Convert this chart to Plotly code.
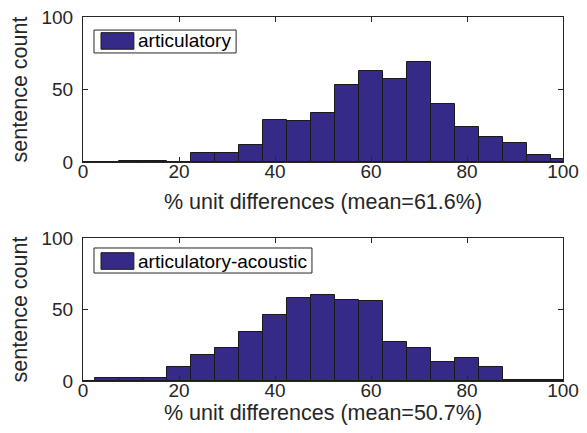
import plotly.graph_objects as go

bin_centers = [0, 5, 10, 15, 20, 25, 30, 35, 40, 45, 50, 55, 60, 65, 70, 75, 80, 85, 90, 95, 100]
articulatory = [0, 0, 1, 1, 0, 6, 6, 12, 29, 28, 34, 53, 63, 57, 69, 40, 24, 17, 13, 5, 2]
artic_acoustic = [0, 2, 2, 2, 10, 18, 23, 34, 46, 58, 60, 57, 56, 27, 23, 13, 16, 10, 1, 1, 1]
names = ["articulatory", "articulatory-acoustic"]
x_titles = ["% unit differences (mean=61.6%)", "% unit differences (mean=50.7%)"]
x_ticks = [0, 20, 40, 60, 80, 100]
y_ticks = [0, 50, 100]

BAR = "#352a87"
AX = "#262626"
FONT = "Liberation Sans, Arial, Helvetica, sans-serif"

fig = go.Figure()
series = [articulatory, artic_acoustic]
axes = [("x", "y"), ("x2", "y2")]
for vals, nm, (xa, ya) in zip(series, names, axes):
    fig.add_trace(go.Bar(x=bin_centers, y=vals, width=5, name=nm, showlegend=False,
                         marker=dict(color=BAR, line=dict(color="#1a1a1a", width=1)),
                         xaxis=xa, yaxis=ya))

axis_common = dict(showline=True, linecolor=AX, linewidth=1, mirror="ticks",
                   ticks="inside", ticklen=5, tickcolor=AX, showgrid=False, zeroline=False,
                   automargin=False, tickfont=dict(size=19, color=AX, family=FONT))
xcommon = dict(domain=[0, 1], range=[0, 100], tickvals=x_ticks, ticklabelstandoff=-8, **axis_common)
ycommon = dict(range=[0, 100], tickvals=y_ticks, ticklabelstandoff=5, **axis_common)

fig.update_layout(
    width=587, height=433,
    margin=dict(l=83, r=24, t=17, b=52),
    paper_bgcolor="white", plot_bgcolor="white",
    font=dict(family=FONT, color=AX),
    bargap=0, showlegend=False,
    xaxis=dict(anchor="y", title=dict(text=x_titles[0], font=dict(size=21.5), standoff=13), **xcommon),
    yaxis=dict(domain=[0.6016, 1.0], anchor="x",
               title=dict(text="sentence count", font=dict(size=21.5), standoff=7), **ycommon),
    xaxis2=dict(anchor="y2", title=dict(text=x_titles[1], font=dict(size=21.5), standoff=5), **xcommon),
    yaxis2=dict(domain=[0, 0.3929], anchor="x2",
                title=dict(text="sentence count", font=dict(size=21.5), standoff=7), **ycommon),
)

# legend boxes drawn in axis-domain coordinates (MATLAB-style legend)
legend_specs = [
    # xref, yref, box x1, box y0, box y1, swatch y0, swatch y1, text y
    ("x domain", "y domain", 0.319, 0.752, 0.910, 0.778, 0.892, 0.835),
    ("x2 domain", "y2 domain", 0.477, 0.755, 0.930, 0.781, 0.897, 0.839),
]
for (xr, yr, bx1, by0, by1, sy0, sy1, ty), nm in zip(legend_specs, names):
    fig.add_shape(type="rect", xref=xr, yref=yr, x0=0.0229, x1=bx1, y0=by0, y1=by1,
                  fillcolor="white", line=dict(color=AX, width=1), layer="above")
    fig.add_shape(type="rect", xref=xr, yref=yr, x0=0.0375, x1=0.106, y0=sy0, y1=sy1,
                  fillcolor=BAR, line=dict(color="#1a1a1a", width=1), layer="above")
    fig.add_annotation(xref=xr, yref=yr, x=0.110, y=ty, text=nm, showarrow=False,
                       xanchor="left", yanchor="middle",
                       font=dict(size=19, color="black", family=FONT))

fig.write_html("out.html", config={"displayModeBar": False},
               post_script="document.body.style.margin='0';document.body.style.overflow='hidden';")
